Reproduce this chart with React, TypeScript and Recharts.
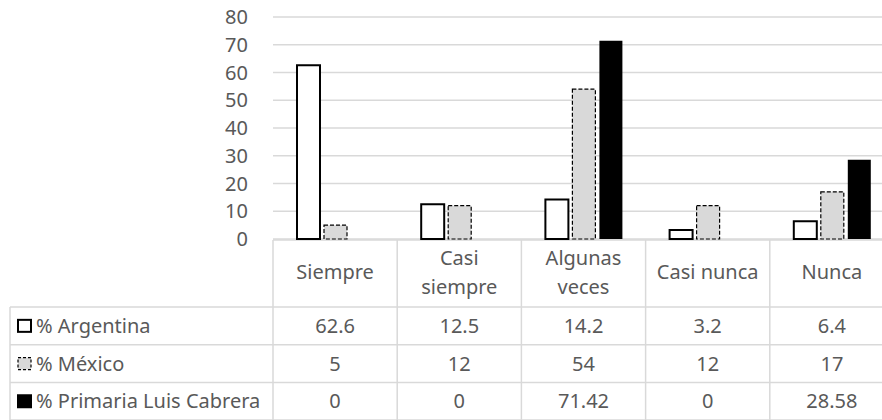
import { Bar, BarChart, CartesianGrid, Customized, XAxis, YAxis } from "recharts";

const categories = ["Siempre", "Casi\nsiempre", "Algunas\nveces", "Casi nunca", "Nunca"];
const argentina = [62.6, 12.5, 14.2, 3.2, 6.4];
const mexico = [5, 12, 54, 12, 17];
const primaria = [0, 0, 71.42, 0, 28.58];
const yTicks = [0, 10, 20, 30, 40, 50, 60, 70, 80];

const seriesNames = ["% Argentina", "% México", "% Primaria Luis Cabrera"];
const seriesValues = [argentina, mexico, primaria];

const data = categories.map((name, i) => ({
  name,
  argentina: argentina[i],
  mexico: mexico[i],
  primaria: primaria[i],
}));

const FONT = "'Noto Sans', sans-serif";
const FS = 20;
const TEXT = "#595959";
const LINE = "#d9d9d9";

const W = 894;
const H = 420;
const LEFT = 273;
const TOP = 17;
const AXIS_Y = 239;
const HEADER_BOTTOM = 307;
const ROW_H = 37.7;
const LABEL_LEFT = 10;

function LegendKey({ idx, x, y }: { idx: number; x: number; y: number }) {
  if (idx === 0) return <rect x={x} y={y} width={13} height={12} fill="#fff" stroke="#000" strokeWidth={2} />;
  if (idx === 1)
    return <rect x={x} y={y} width={13} height={12} fill="#d9d9d9" stroke="#000" strokeWidth={1.2} strokeDasharray="3 2" />;
  return <rect x={x - 1} y={y - 1} width={15} height={14} fill="#000" />;
}

function DataTable() {
  const colW = (W - LEFT) / categories.length;
  const bottom = HEADER_BOTTOM + ROW_H * 3;
  return (
    <g fontFamily={FONT} fontSize={FS} fill={TEXT}>
      {/* top border of header */}
      <line x1={LEFT} x2={W} y1={AXIS_Y + 1} y2={AXIS_Y + 1} stroke={LINE} strokeWidth={1.5} />
      {/* row lines */}
      {[0, 1, 2, 3].map((r) => (
        <line
          key={r}
          x1={LABEL_LEFT}
          x2={W}
          y1={HEADER_BOTTOM + r * ROW_H}
          y2={HEADER_BOTTOM + r * ROW_H}
          stroke={LINE}
          strokeWidth={1.5}
        />
      ))}
      <line x1={LABEL_LEFT} x2={LABEL_LEFT} y1={HEADER_BOTTOM} y2={bottom} stroke={LINE} strokeWidth={1.5} />
      {categories.map((_, i) => (
        <line
          key={i}
          x1={LEFT + i * colW}
          x2={LEFT + i * colW}
          y1={AXIS_Y + 1}
          y2={bottom}
          stroke={LINE}
          strokeWidth={1.5}
        />
      ))}
      {/* header labels */}
      {categories.map((c, i) => {
        const lines = c.split("\n");
        const cx = LEFT + (i + 0.5) * colW;
        const cy = (AXIS_Y + HEADER_BOTTOM) / 2 - 1;
        const lh = 29;
        return (
          <text key={c} x={cx} textAnchor="middle" stroke="none">
            {lines.map((l, k) => (
              <tspan key={k} x={cx} y={cy + (k - (lines.length - 1) / 2) * lh} dy="0.35em">
                {l}
              </tspan>
            ))}
          </text>
        );
      })}
      {/* rows */}
      {seriesNames.map((s, r) => {
        const cy = HEADER_BOTTOM + (r + 0.5) * ROW_H;
        return (
          <g key={s}>
            <LegendKey idx={r} x={18} y={cy - 6} />
            <text x={36} y={cy} dy="0.35em" stroke="none">
              {s}
            </text>
            {seriesValues[r].map((v, i) => (
              <text key={i} x={LEFT + (i + 0.5) * colW} y={cy} dy="0.35em" textAnchor="middle" stroke="none">
                {v}
              </text>
            ))}
          </g>
        );
      })}
    </g>
  );
}

export default function App() {
  return (
    <div style={{ position: "absolute", left: 0, top: 0, width: 882, height: 420, overflow: "hidden", background: "#fff" }}>
      <BarChart
        width={W}
        height={H}
        data={data}
        margin={{ top: TOP, right: 0, bottom: H - AXIS_Y, left: 0 }}
        barSize={23}
        barGap={4}
      >
        <CartesianGrid vertical={false} stroke={LINE} strokeWidth={1.5} />
        <XAxis dataKey="name" hide height={0} />
        <YAxis
          width={LEFT}
          domain={[0, 80]}
          ticks={yTicks}
          interval={0}
          tickLine={false}
          axisLine={false}
          tickMargin={19}
          tick={{ fill: TEXT, fontSize: FS, fontFamily: FONT }}
        />
        <Bar dataKey="argentina" fill="#ffffff" stroke="#000" strokeWidth={2} isAnimationActive={false} />
        <Bar dataKey="mexico" fill="#d9d9d9" stroke="#000" strokeWidth={1.2} strokeDasharray="4 2" isAnimationActive={false} />
        <Bar dataKey="primaria" fill="#000" isAnimationActive={false} />
        <Customized component={DataTable} />
      </BarChart>
    </div>
  );
}
